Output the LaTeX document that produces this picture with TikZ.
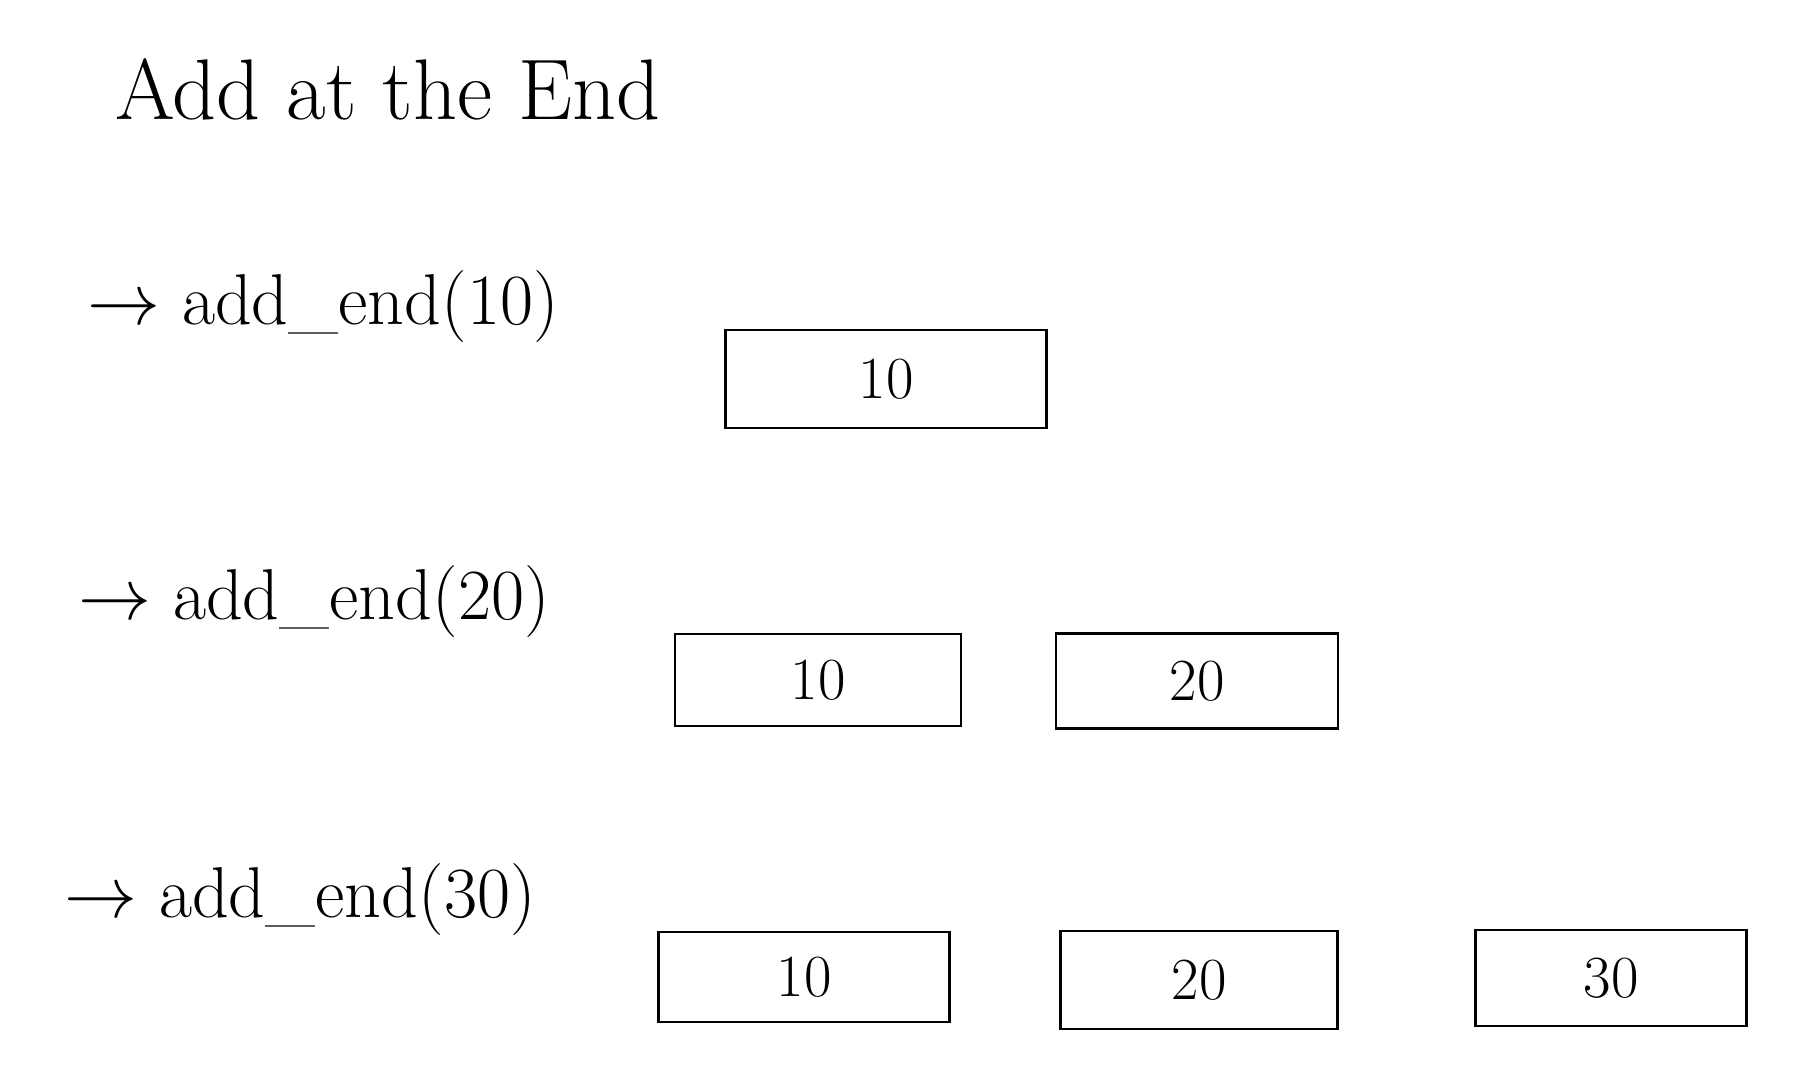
\documentclass[tikz,border=0pt]{standalone}
\usepackage{amsmath}
\usetikzlibrary{positioning}

\begin{document}
\begin{tikzpicture}[x=1cm, y=1cm,
  every node/.style={font=\fontsize{20.5}{24}\selectfont},
  cell/.style={draw, thick, inner sep=0pt, font=\fontsize{17}{20}\selectfont},
  cmd/.style={anchor=base west}]
\useasboundingbox (0,0) rectangle (17.98,-10.8);
% Title
\node[anchor=base west, font=\fontsize{24.5}{28}\selectfont] (title) at (1.03,-1.2) {Add at the End};
% Calls
\node[cmd] (cmdA) at (0.75,-3.25) {$\rightarrow$ add\_end(10)};
\node[cmd] (cmdB) at (0.66,-6.19) {$\rightarrow$ add\_end(20)};
\node[cmd] (cmdC) at (0.52,-9.17) {$\rightarrow$ add\_end(30)};
% List after first call
\node[cell, minimum width=3.21cm, minimum height=0.98cm] (boxA) at (8.86,-3.79) {10};
% List after second call
\node[cell, minimum width=2.86cm, minimum height=0.92cm] (boxBa) at (8.18,-6.80) {10};
\node[cell, minimum width=2.82cm, minimum height=0.95cm] (boxBb) at (11.97,-6.81) {20};
% List after third call
\node[cell, minimum width=2.91cm, minimum height=0.90cm] (boxCa) at (8.04,-9.77) {10};
\node[cell, minimum width=2.77cm, minimum height=0.98cm] (boxCb) at (11.99,-9.80) {20};
\node[cell, minimum width=2.71cm, minimum height=0.96cm] (boxCc) at (16.11,-9.78) {30};
\end{tikzpicture}
\end{document}
